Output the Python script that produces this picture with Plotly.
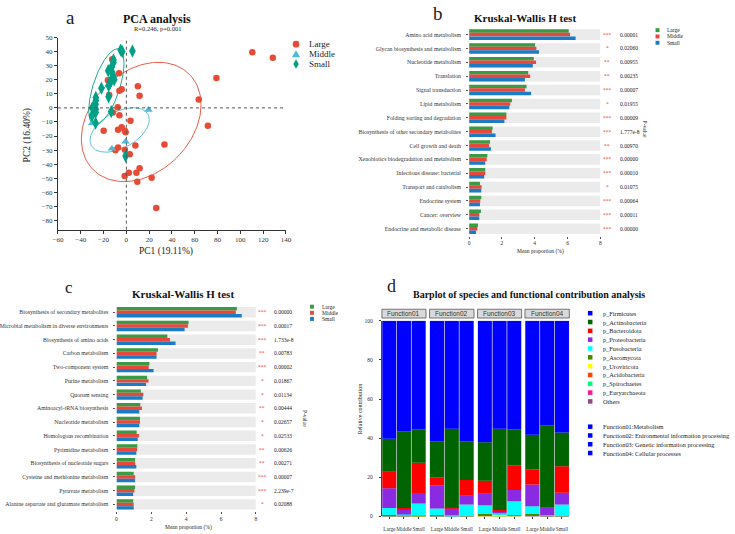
import numpy as np
import plotly.graph_objects as go

W, H = 735, 534
SERIF = "Liberation Serif"
SANS = "Liberation Sans"

# ---------------- Panel a: PCA ----------------
large_pc1 = [110.5, 128.5, 79.0, 63.5, 71.5, 33.4, 26.2, 22.2, 9.6, 8.8, 11.6, 2.2, -1.5, 3.0,
             -1.3, 7.9, -7.3, -9.6, -7.3, -4.1, -0.7, -1.3, 3.6, -19.9, -6.1, -7.6, -11.9,
             10.1, 11.6, -6.1, -4.1, -6.4, -15.0, -12.4, -16.2]
large_pc2 = [39.5, 35.7, 21.2, 6.0, -12.7, -26.0, -71.1, -49.6, -52.6, -46.1, -43.0, -46.1, -48.4, -33.0,
             -29.7, -26.7, -28.1, -30.2, -15.5, -13.8, -17.3, -16.2, -9.2, -16.2, -5.2, 0.4, -3.3,
             15.4, 8.6, 12.1, 13.3, 24.7, 9.1, 34.6, 19.6]
middle_pc1 = [19.4, -0.7, -12.7, -29.9]
middle_pc2 = [-1.4, -23.9, -29.0, -10.8]
small_pc1 = [-5.0, -3.6, 5.3, -11.3, -11.3, -12.7, -15.9, -12.4, -11.3, -13.6, -10.7, -15.6, -14.2,
             -21.9, -15.6, -26.8, -26.8, -27.0, -29.9, -27.0, -30.2, -27.0, -13.3, -0.7, -26.8]
small_pc2 = [41.1, 40.0, 40.4, 34.1, 32.2, 29.4, 26.4, 25.2, 22.4, 19.6, 20.0, 15.9, 17.7,
             14.0, 7.9, 7.4, 5.3, 2.5, 0.0, -3.3, -5.6, -10.8, -2.6, -34.2, -0.9]
# ellipse: centre x, centre y, sd x, sd y, covariance
large_ellipse = [13.0, -10.0, 52.5, 42.4, 640.0]
middle_ellipse = [-5.9, -15.7, 26.0, 15.8, 190.0]
small_ellipse = [-17.5, 15.0, 15.5, 27.0, 260.0]

# ---------------- Panel b ----------------
b_cats = ["Amino acid metabolism", "Glycan biosynthesis and metabolism", "Nucleotide metabolism",
          "Translation", "Signal transduction", "Lipid metabolism", "Folding sorting and degradation",
          "Biosynthesis of other secondary metabolites", "Cell growth and death",
          "Xenobiotics biodegradation and metabolism", "Infectious disease: bacterial",
          "Transport and catabolism", "Endocrine system", "Cancer: overview",
          "Endocrine and metabolic disease"]
b_large = [6.07, 4.02, 3.94, 3.60, 3.50, 2.61, 2.27, 1.43, 1.27, 1.11, 0.98, 0.66, 0.74, 0.72, 0.54]
b_middle = [6.15, 4.10, 4.08, 3.72, 3.40, 2.51, 2.27, 1.39, 1.21, 1.07, 0.98, 0.76, 0.68, 0.62, 0.50]
b_small = [6.49, 4.26, 3.88, 3.40, 3.78, 2.45, 2.15, 1.61, 1.33, 0.98, 0.92, 0.74, 0.66, 0.62, 0.42]
b_p = ["0.00001", "0.02060", "0.00955", "0.00235", "0.00007", "0.01955", "0.00009", "1.777e-8",
       "0.00970", "0.00000", "0.00010", "0.01075", "0.00064", "0.00011", "0.00000"]

# ---------------- Panel c ----------------
c_cats = ["Biosynthesis of secondary metabolites", "Microbial metabolism in diverse environments",
          "Biosynthesis of amino acids", "Carbon metabolism", "Two-component system",
          "Purine metabolism", "Quorum sensing", "Aminoacyl-tRNA biosynthesis",
          "Nucleotide metabolism", "Homologous recombination", "Pyrimidine metabolism",
          "Biosynthesis of nucleotide sugars", "Cysteine and methionine metabolism",
          "Pyruvate metabolism", "Alanine aspartate and glutamate metabolism"]
c_large = [6.91, 4.14, 2.92, 2.38, 1.89, 1.76, 1.40, 1.37, 1.35, 1.16, 1.20, 1.07, 0.99, 1.07, 0.96]
c_middle = [6.85, 4.10, 3.07, 2.30, 1.85, 1.84, 1.54, 1.46, 1.35, 1.29, 1.18, 1.07, 1.07, 1.03, 0.99]
c_small = [7.19, 3.91, 3.39, 2.30, 2.13, 1.70, 1.50, 1.31, 1.31, 1.22, 1.14, 1.14, 1.07, 0.96, 0.99]
c_p = ["0.00000", "0.00017", "1.733e-8", "0.00783", "0.00002", "0.01867", "0.01134", "0.00444",
       "0.02657", "0.02533", "0.00626", "0.00271", "0.00007", "2.239e-7", "0.02088"]

groups = ["Large", "Middle", "Small"]

# ---------------- Panel d ----------------
functions = ["Function01", "Function02", "Function03", "Function04"]
function_labels = ["Function01:Metabolism", "Function02: Enironmental information processing",
                   "Function03: Genetic information processing", "Function04: Cellular processes"]
species = ["p_Firmicutes", "p_Actinobacteria", "p_Bacteroidota", "p_Proteobacteria",
           "p_Fusobacteria", "p_Ascomycota", "p_Uroviricota", "p_Acidobacteria",
           "p_Spirochaetes", "p_Euryarchaeota", "Others"]
# values per bar: F01 L,M,S | F02 L,M,S | F03 L,M,S | F04 L,M,S
firmicutes = [60.3, 56.5, 55.5, 61.6, 55.2, 61.7, 62.1, 55.2, 55.5, 58.2, 53.4, 57.1]
actinobacteria = [16.9, 39.1, 17.0, 18.5, 40.3, 19.6, 19.7, 41.5, 18.5, 17.8, 41.7, 17.2]
bacteroidota = [8.4, 0.5, 15.5, 3.9, 0.3, 8.1, 6.6, 0.5, 12.5, 7.6, 0.3, 13.6]
proteobacteria = [10.1, 2.9, 5.4, 11.9, 3.6, 4.5, 5.9, 1.2, 5.7, 11.2, 3.8, 6.0]
fusobacteria = [3.6, 0.6, 6.2, 3.5, 0.3, 5.9, 4.3, 0.5, 7.1, 3.9, 0.4, 5.9]
ascomycota = [0.5, 0.1, 0.2, 0.4, 0.1, 0.1, 1.2, 0.2, 0.1, 1.1, 0.1, 0.1]
uroviricota = [0.0, 0.0, 0.1, 0.0, 0.0, 0.0, 0.1, 0.6, 0.5, 0.0, 0.0, 0.0]
acidobacteria = [0.0, 0.0, 0.0, 0.0, 0.0, 0.0, 0.0, 0.0, 0.0, 0.0, 0.0, 0.0]
spirochaetes = [0.0, 0.0, 0.0, 0.0, 0.0, 0.0, 0.0, 0.2, 0.0, 0.0, 0.0, 0.0]
euryarchaeota = [0.0, 0.0, 0.0, 0.0, 0.0, 0.0, 0.0, 0.0, 0.0, 0.0, 0.0, 0.0]
others = [0.2, 0.3, 0.1, 0.2, 0.2, 0.1, 0.1, 0.1, 0.1, 0.2, 0.3, 0.1]

# ---------------- styles ----------------
NPG_RED, NPG_CYAN, NPG_TEAL = "#E64B35", "#4DBBD5", "#00A087"
KW_COLORS = ["#3a9b45", "#e8483c", "#1b7cc4"]
SP_COLORS = ["#0000FF", "#006400", "#FF0000", "#8A2BE2", "#00FFFF", "#458B00", "#FFFF00",
             "#FF4500", "#00FF7F", "#FF1493", "#8B4C8B"]
FUNC_COLOR = "#0000FF"


def fx(px):
    return px / W


def fy(py):
    return 1 - py / H


def ann(text, px, py, size, bold=False, color="#222", xanchor="center", yanchor="middle",
        angle=0, family=SERIF):
    return dict(text=f"<b>{text}</b>" if bold else text, x=fx(px), y=fy(py), xref="paper",
                yref="paper", showarrow=False, xanchor=xanchor, yanchor=yanchor, textangle=angle,
                font=dict(size=size, color=color, family=family), borderpad=0)


def prect(x0, y0, x1, y1, fill, line_color=None, lw=0):
    return dict(type="rect", xref="paper", yref="paper", x0=fx(x0), x1=fx(x1), y0=fy(y1), y1=fy(y0),
                fillcolor=fill, line=dict(color=line_color or fill, width=lw))


def stars(p):
    v = float(p)
    return "***" if v < 0.001 else ("**" if v < 0.01 else ("*" if v < 0.05 else ""))


def ellipse(p, n=160):
    cx, cy, sx, sy, cov = p
    t = np.linspace(0, 2 * np.pi, n)
    l21 = cov / sx
    l22 = np.sqrt(sy ** 2 - l21 ** 2)
    return cx + sx * np.cos(t), cy + l21 * np.cos(t) + l22 * np.sin(t)


fig = go.Figure()
shapes, annotations = [], []

# ======== Panel a ========
for par, col in [(large_ellipse, NPG_RED), (middle_ellipse, NPG_CYAN), (small_ellipse, NPG_TEAL)]:
    ex, ey = ellipse(par)
    fig.add_trace(go.Scatter(x=ex, y=ey, mode="lines", line=dict(color=col, width=0.9),
                             xaxis="x", yaxis="y", hoverinfo="skip"))
fig.add_trace(go.Scatter(x=large_pc1, y=large_pc2, mode="markers", name="Large",
                         marker=dict(symbol="circle", size=6.5, color=NPG_RED), xaxis="x", yaxis="y"))
fig.add_trace(go.Scatter(x=middle_pc1, y=middle_pc2, mode="markers", name="Middle",
                         marker=dict(symbol="triangle-up", size=7.5, color=NPG_CYAN), xaxis="x", yaxis="y"))
fig.add_trace(go.Scatter(x=small_pc1, y=small_pc2, mode="markers", name="Small",
                         marker=dict(symbol="diamond-tall", size=9.5, color=NPG_TEAL), xaxis="x", yaxis="y"))

shapes.append(dict(type="line", xref="x", yref="y domain", x0=0, x1=0, y0=0, y1=1,
                   line=dict(color="#555", width=1, dash="dot")))
shapes.append(dict(type="line", xref="x domain", yref="y", x0=0, x1=1, y0=0, y1=0,
                   line=dict(color="#555", width=1, dash="dot")))

annotations += [
    ann("a", 62.5, 14, 19),
    ann("PCA analysis", 151, 15, 12, bold=True, color="#111"),
    ann("R=0.246, p=0.001", 151.5, 24.5, 6.5),
    ann("PC1 (19.11%)", 160, 250.5, 9.5),
    ann("PC2 (16.40%)", 18.5, 133, 9.5, angle=-90),
]
# legend a
lx = 293
shapes.append(dict(type="circle", xref="paper", yref="paper", x0=fx(lx - 3.4), x1=fx(lx + 3.4),
                   y0=fy(40.7 + 3.4), y1=fy(40.7 - 3.4), fillcolor=NPG_RED, line=dict(width=0)))
tri = [(lx, 50.7 - 3.8), (lx - 4.2, 50.7 + 3.2), (lx + 4.2, 50.7 + 3.2)]
shapes.append(dict(type="path", xref="paper", yref="paper", fillcolor=NPG_CYAN, line=dict(width=0),
                   path="M " + " L ".join(f"{fx(a)},{fy(b)}" for a, b in tri) + " Z"))
dia = [(lx, 60.7 - 4.8), (lx + 2.8, 60.7), (lx, 60.7 + 4.8), (lx - 2.8, 60.7)]
shapes.append(dict(type="path", xref="paper", yref="paper", fillcolor=NPG_TEAL, line=dict(width=0),
                   path="M " + " L ".join(f"{fx(a)},{fy(b)}" for a, b in dia) + " Z"))
for i, g in enumerate(groups):
    annotations.append(ann(g, 305, 40.7 + 10 * i, 9, xanchor="left", color="#222"))

# ======== Panels b and c ========
def kw_panel(cats, vals, pvals, xa, ya, star_x, p_x, leg_x, leg_y, leg_dy, pv_pos):
    offsets = [-0.38, -0.127, 0.127]
    for k, (v, col) in enumerate(zip(vals, KW_COLORS)):
        fig.add_trace(go.Bar(x=v, y=cats, orientation="h", width=0.253, offset=offsets[k],
                             marker=dict(color=col, line=dict(width=0)), name=groups[k],
                             xaxis=xa, yaxis=ya))
    for i in range(len(cats)):
        shapes.append(dict(type="rect", xref=xa, yref=ya, x0=0, x1=8, y0=i - 0.38, y1=i + 0.38,
                           fillcolor="#ebebeb", line=dict(width=0), layer="below"))
    yref = "y" + ya[1:]
    for c, p in zip(cats, pvals):
        annotations.append(dict(text=stars(p), x=fx(star_x), y=c, xref="paper", yref=yref,
                                showarrow=False, font=dict(size=5.5, color="#e8483c", family=SERIF),
                                xanchor="center", yanchor="middle"))
        annotations.append(dict(text=p, x=fx(p_x), y=c, xref="paper", yref=yref, showarrow=False,
                                font=dict(size=5.5, color="#222", family=SERIF),
                                xanchor="left", yanchor="middle"))
    for k, g in enumerate(groups):
        cy = leg_y + leg_dy * k
        shapes.append(prect(leg_x - 2, cy - 2, leg_x + 2, cy + 2, KW_COLORS[k]))
        annotations.append(ann(g, leg_x + 9, cy, 5.5, xanchor="left"))
    annotations.append(ann("P-value", pv_pos[0], pv_pos[1], 5.5, angle=90))


kw_panel(b_cats, [b_large, b_middle, b_small], b_p, "x2", "y2", 610.7, 621.7, 662, 26.5, 6.4,
         (649, 127))
kw_panel(c_cats, [c_large, c_middle, c_small], c_p, "x3", "y3", 258.3, 268.3, 309.3, 306.7, 6.2,
         (301.7, 420))
annotations += [
    ann("b", 437.5, 9.5, 19),
    ann("Kruskal-Wallis H test", 526.7, 14.2, 11, bold=True, color="#111"),
    ann("Mean proportion (%)", 543, 250.7, 5.5),
    ann("c", 61.7, 287.5, 17),
    ann("Kruskal-Wallis H test", 178, 293.5, 11, bold=True, color="#111"),
    ann("Mean proportion (%)", 183, 530.5, 5.5),
]

# ======== Panel d ========
stack_order = [others, euryarchaeota, spirochaetes, acidobacteria, uroviricota, ascomycota,
               fusobacteria, proteobacteria, bacteroidota, actinobacteria, firmicutes]
stack_colors = SP_COLORS[::-1]
arr = np.array(stack_order)
bases = np.cumsum(arr, axis=0) - arr
d_xaxes = ["x4", "x5", "x6", "x7"]
for s in range(len(stack_order)):
    for f, xa in enumerate(d_xaxes):
        fig.add_trace(go.Bar(x=groups, y=arr[s, 3 * f:3 * f + 3], base=bases[s, 3 * f:3 * f + 3],
                             width=0.95, marker=dict(color=stack_colors[s], line=dict(width=0)),
                             xaxis=xa, yaxis="y4"))
facet_px = [(380.7, 425.7), (429.3, 474.7), (478.3, 523.3), (526.7, 572.0)]
for f, xa in enumerate(d_xaxes):
    shapes.append(dict(type="rect", xref=xa + " domain", yref="y4 domain", x0=0, x1=1, y0=0, y1=1,
                       fillcolor="#d6d6d6", line=dict(width=0), layer="below"))
    shapes.append(dict(type="rect", xref=xa + " domain", yref="paper", x0=0, x1=1,
                       y0=fy(318.2), y1=fy(309.3), fillcolor="#d9d9d9",
                       line=dict(color="#555", width=0.8)))
    annotations.append(dict(text=functions[f], xref=xa + " domain", yref="paper", x=0.5,
                            y=fy(313.8), showarrow=False, xanchor="center", yanchor="middle",
                            font=dict(size=6.5, family=SANS, color="#333")))
# legend d
for i, name in enumerate(species):
    cy = 313.3 + 8.94 * i
    shapes.append(prect(591, cy - 2.3, 595.6, cy + 2.3, SP_COLORS[i]))
    annotations.append(ann(name, 605, cy, 6.3, xanchor="left"))
for i, name in enumerate(function_labels):
    cy = 428.3 + 8.9 * i
    shapes.append(prect(591, cy - 2.3, 595.6, cy + 2.3, FUNC_COLOR))
    annotations.append(ann(name, 605, cy, 6.3, xanchor="left"))
annotations += [
    ann("d", 390.5, 286, 18),
    ann("Barplot of species and functional contribution analysis", 531.2, 294.2, 10,
        bold=True, color="#111"),
    ann("Relative contribution", 358.3, 410, 6, angle=-90),
]

# ======== Layout ========
tf = dict(family=SERIF, size=7, color="#333")
layout = dict(
    width=W, height=H, margin=dict(l=0, r=0, t=0, b=0), paper_bgcolor="white",
    plot_bgcolor="white", barmode="overlay", showlegend=False,
    font=dict(family=SERIF, color="#222"),
    xaxis=dict(domain=[fx(50), fx(282.7)], range=[-60, 140], tick0=-60, dtick=20, anchor="y",
               showline=True, linecolor="#333", linewidth=1, ticks="outside", ticklen=3,
               tickcolor="#333", tickfont=tf, showgrid=False, zeroline=False),
    yaxis=dict(domain=[fy(228.7), fy(34)], range=[-86.6, 50], tick0=-80, dtick=10, anchor="x",
               showline=True, linecolor="#333", linewidth=1, ticks="outside", ticklen=3,
               tickcolor="#333", tickfont=tf, showgrid=False, zeroline=False),
)
small_tf = dict(family=SERIF, size=5.5, color="#333")
for xa, ya, xd, yd, cats in [("xaxis2", "yaxis2", (469.7, 603.7), (234.7, 24.0), b_cats),
                             ("xaxis3", "yaxis3", (109.7, 252.0), (514.0, 305.4), c_cats)]:
    n = xa[-1]
    layout[xa] = dict(domain=[fx(xd[0]), fx(xd[1])], range=[0, 8], tickvals=[0, 2, 4, 6, 8],
                      anchor="y" + n, showline=False, showgrid=False, zeroline=False,
                      ticks="outside", ticklen=2, tickcolor="#555", tickfont=small_tf)
    layout[ya] = dict(domain=[fy(yd[0]), fy(yd[1])], type="category", categoryorder="array",
                      categoryarray=cats, range=[len(cats) - 0.5, -0.5], anchor="x" + n,
                      tickmode="array", tickvals=cats, ticktext=cats, showline=False,
                      showgrid=False, zeroline=False, ticks="outside", ticklen=2, tickcolor="#555",
                      ticklabelstandoff=4, tickfont=dict(family=SERIF, size=5.8, color="#333"))
for f, xa in enumerate(d_xaxes):
    key = "xaxis" + xa[1:]
    layout[key] = dict(domain=[fx(facet_px[f][0]), fx(facet_px[f][1])], range=[-0.5, 2.5],
                       type="category", categoryorder="array", categoryarray=groups,
                       tickmode="array", tickvals=groups, ticktext=groups, anchor="y4",
                       tickangle=0, showline=False, showgrid=False, zeroline=False,
                       ticks="outside", ticklen=2, tickcolor="#333", ticklabelstandoff=5,
                       tickfont=dict(family=SERIF, size=5.3, color="#333"))
layout["yaxis4"] = dict(domain=[fy(519.3), fy(321.0)], range=[0, 100], dtick=20, anchor="x4",
                        showline=True, linecolor="#444", linewidth=1, showgrid=False,
                        zeroline=False, ticks="outside", ticklen=2, tickcolor="#333",
                        ticklabelstandoff=5, tickfont=small_tf)
layout["shapes"] = shapes
layout["annotations"] = annotations
fig.update_layout(**layout)
fig.write_html("out.html")
